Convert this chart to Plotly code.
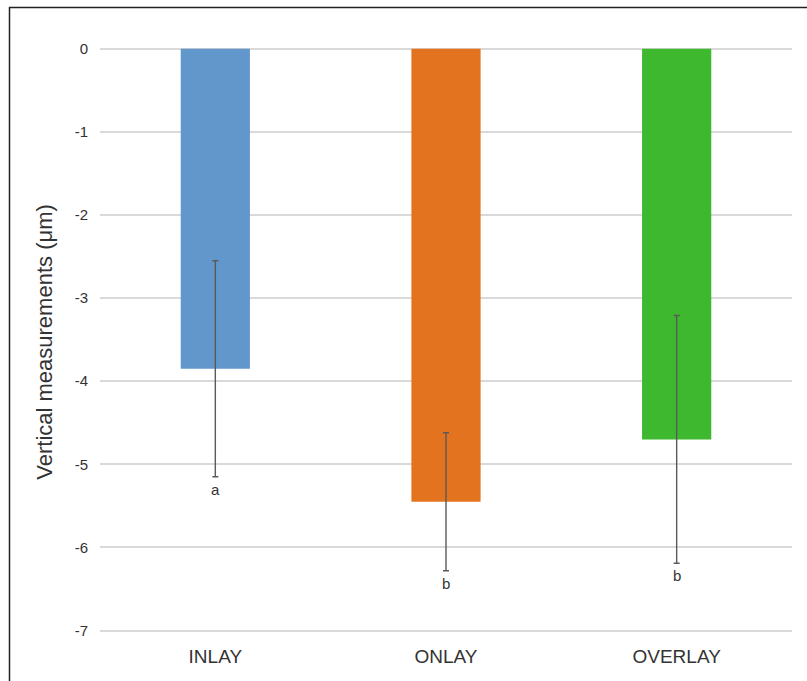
import plotly.graph_objects as go

# Restoration groups and their mean vertical measurements (µm) with error
groups = ["INLAY", "ONLAY", "OVERLAY"]
means = [-3.85, -5.45, -4.70]
errors = [1.30, 0.83, 1.49]
letters = ["a", "b", "b"]
colors = ["#6297CC", "#E3731F", "#3DB82F"]

y_ticks = [0, -1, -2, -3, -4, -5, -6, -7]

W, H = 807, 681
L, R, T, B = 100, 15, 28, 37.5

fig = go.Figure()
fig.add_trace(go.Bar(
    x=groups,
    y=means,
    marker=dict(color=colors, line=dict(width=0)),
    error_y=dict(type="data", array=errors, visible=True,
                 color="#5a5a5a", thickness=1.4, width=3),
    showlegend=False,
))

# significance letters beneath each error bar
for g, m, e, s in zip(groups, means, errors, letters):
    fig.add_annotation(x=g, y=m - e, text=s, showarrow=False,
                       yanchor="top", yshift=-2,
                       font=dict(size=15, color="#333333"))

pw, ph = W - L - R, H - T - B
def px(xp):
    return (xp - L) / pw
def py(yp):
    return (H - B - yp) / ph

# y-axis title
fig.add_annotation(xref="paper", yref="paper",
                   x=px(45), y=py(342),
                   text="Vertical measurements (μm)", textangle=-90,
                   showarrow=False, xanchor="center", yanchor="middle",
                   font=dict(size=22, color="#333333"))

# outer frame (top and left edges)
fig.add_shape(type="line", xref="paper", yref="paper",
              x0=px(9), x1=px(W + 5), y0=py(7.5), y1=py(7.5),
              line=dict(color="#222222", width=1.5))
fig.add_shape(type="line", xref="paper", yref="paper",
              x0=px(9.5), x1=px(9.5), y0=py(7), y1=py(H + 5),
              line=dict(color="#222222", width=1.5))

fig.update_layout(
    width=W, height=H,
    margin=dict(l=L, r=R, t=T, b=B),
    paper_bgcolor="white", plot_bgcolor="white",
    bargap=0.7,
    font=dict(family="Liberation Sans, Arial, sans-serif", color="#333333"),
    xaxis=dict(showline=False, showgrid=False, ticks="",
               tickfont=dict(size=19, color="#333333")),
    yaxis=dict(range=[-7.15, 0.25], tickvals=y_ticks,
               ticktext=[str(v) for v in y_ticks],
               showgrid=True, gridcolor="#d9d9d9", gridwidth=1.5,
               zeroline=False, showline=False, ticks="",
               ticklabelstandoff=11,
               tickfont=dict(size=15, color="#333333")),
)

fig.write_html("out.html")
